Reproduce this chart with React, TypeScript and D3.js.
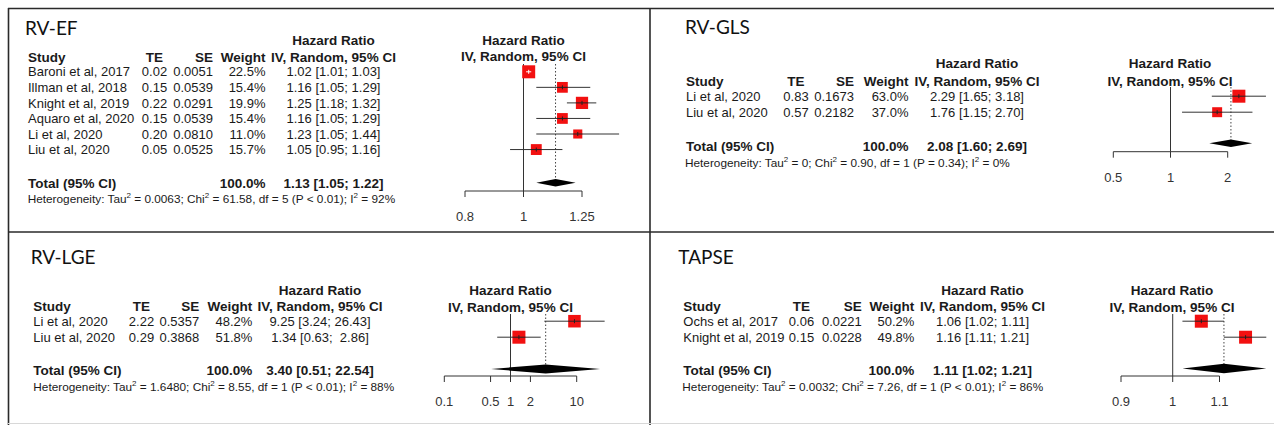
import React from "react";
import * as d3 from "d3";

// ---------------- DATA ----------------
const efStudies = ["Baroni et al, 2017", "Illman et al, 2018", "Knight et al, 2019", "Aquaro et al, 2020", "Li et al, 2020", "Liu et al, 2020"];
const efTE = [0.02, 0.15, 0.22, 0.15, 0.2, 0.05];
const efSE = [0.0051, 0.0539, 0.0291, 0.0539, 0.081, 0.0525];
const efWeight = [22.5, 15.4, 19.9, 15.4, 11.0, 15.7];
const efHR = [1.02, 1.16, 1.25, 1.16, 1.23, 1.05];
const efLower = [1.01, 1.05, 1.18, 1.05, 1.05, 0.95];
const efUpper = [1.03, 1.29, 1.32, 1.29, 1.44, 1.16];
const efTotal = [1.13, 1.05, 1.22];
const efHet = ["0.0063", "61.58", "5", "P < 0.01", "92%"];
const efTicks = [0.8, 1, 1.25];

const glsStudies = ["Li et al, 2020", "Liu et al, 2020"];
const glsTE = [0.83, 0.57];
const glsSE = [0.1673, 0.2182];
const glsWeight = [63.0, 37.0];
const glsHR = [2.29, 1.76];
const glsLower = [1.65, 1.15];
const glsUpper = [3.18, 2.7];
const glsTotal = [2.08, 1.6, 2.69];
const glsHet = ["0", "0.90", "1", "P = 0.34", "0%"];
const glsTicks = [0.5, 1, 2];

const lgeStudies = ["Li et al, 2020", "Liu et al, 2020"];
const lgeTE = [2.22, 0.29];
const lgeSE = [0.5357, 0.3868];
const lgeWeight = [48.2, 51.8];
const lgeHR = [9.25, 1.34];
const lgeLower = [3.24, 0.63];
const lgeUpper = [26.43, 2.86];
const lgeTotal = [3.4, 0.51, 22.54];
const lgeHet = ["1.6480", "8.55", "1", "P < 0.01", "88%"];
const lgeTicks = [0.1, 0.5, 1, 2, 10];

const tapseStudies = ["Ochs et al, 2017", "Knight et al, 2019"];
const tapseTE = [0.06, 0.15];
const tapseSE = [0.0221, 0.0228];
const tapseWeight = [50.2, 49.8];
const tapseHR = [1.06, 1.16];
const tapseLower = [1.02, 1.11];
const tapseUpper = [1.11, 1.21];
const tapseTotal = [1.11, 1.02, 1.21];
const tapseHet = ["0.0032", "7.26", "1", "P < 0.01", "86%"];
const tapseTicks = [0.9, 1, 1.1];

// ---------------- LAYOUT ----------------
const FONT = "'Liberation Sans', Arial, Helvetica, sans-serif";
const TITLE_FONT = "Lato, 'Open Sans', sans-serif";
const TXT = "#1a1a1a";

type Layout = {
  title: [number, number];
  studyX: number; teX: number; seX: number; wX: number; ciX: number;
  hrHeadY: number; colHeadY: number; rowY0: number; rowStep: number;
  totalY: number; hetY: number; hetX: number;
  range: [number, number]; headX: number; headY1: number; headY2: number;
  lineTop: number; axisY: number; tickLabelY: number; diamondY: number; dh: number;
};

const efLayout: Layout = {
  title: [25, 35], studyX: 28, teX: 154.5, seX: 213, wX: 265.5, ciX: 333.5,
  hrHeadY: 40, colHeadY: 56.7, rowY0: 71.8, rowStep: 15.55, totalY: 183.3, hetY: 199, hetX: 27.7,
  range: [465, 582], headX: 523.5, headY1: 40, headY2: 56, lineTop: 64, axisY: 191, tickLabelY: 216, diamondY: 182.7, dh: 3.8,
};
const glsLayout: Layout = {
  title: [685, 34], studyX: 686, teX: 796, seX: 854, wX: 908.5, ciX: 977,
  hrHeadY: 63.3, colHeadY: 80.7, rowY0: 96.2, rowStep: 16, totalY: 145.7, hetY: 162.3, hetX: 685,
  range: [1113.3, 1227.7], headX: 1170, headY1: 63.3, headY2: 81, lineTop: 87, axisY: 151.7, tickLabelY: 177.7, diamondY: 143.3, dh: 3.8,
};
const lgeLayout: Layout = {
  title: [30.7, 263.5], studyX: 33.3, teX: 141.5, seX: 199.3, wX: 252.3, ciX: 320,
  hrHeadY: 290, colHeadY: 306, rowY0: 321.2, rowStep: 16, totalY: 370, hetY: 386.7, hetX: 33.3,
  range: [444.3, 576.7], headX: 510.5, headY1: 290, headY2: 306.7, lineTop: 314, axisY: 376, tickLabelY: 401.7, diamondY: 369, dh: 4.6,
};
const tapseLayout: Layout = {
  title: [678.3, 263.5], studyX: 683.3, teX: 801.5, seX: 861.7, wX: 914.3, ciX: 982.5,
  hrHeadY: 290, colHeadY: 306, rowY0: 321.2, rowStep: 16, totalY: 370, hetY: 386.7, hetX: 682.3,
  range: [1121, 1219.5], headX: 1172, headY1: 290, headY2: 306.7, lineTop: 314, axisY: 376, tickLabelY: 401.7, diamondY: 368.5, dh: 4.8,
};

type PanelData = {
  name: string; studies: string[]; te: number[]; se: number[]; weight: number[];
  hr: number[]; lower: number[]; upper: number[]; total: number[]; het: string[]; ticks: number[];
};

function T(props: { x: number; y: number; anchor?: string; bold?: boolean; size?: number; fill?: string; children: any }) {
  const size = props.size ?? (props.bold ? 13.5 : 13);
  return (
    <text
      x={props.x}
      y={props.y + size * 0.358}
      textAnchor={props.anchor ?? "start"}
      fontWeight={props.bold ? "bold" : "normal"}
      fontSize={size}
      fontFamily={FONT}
      fill={props.fill ?? TXT}
      style={{ whiteSpace: "pre" }}
    >
      {props.children}
    </text>
  );
}

function fmtCI(hr: number, lo: number, hi: number, width: number) {
  const h = hi.toFixed(2);
  return `${hr.toFixed(2)} [${lo.toFixed(2)}; ${h.padStart(width, " ")}]`;
}

function Panel({ d, L }: { d: PanelData; L: Layout }) {
  const x = d3.scaleLog().domain([d.ticks[0], d.ticks[d.ticks.length - 1]]).range(L.range);
  const y = (i: number) => L.rowY0 + i * L.rowStep;
  const maxW = d3.max(d.weight) as number;
  const side = (w: number) => 13 * Math.sqrt(w / maxW);
  const hiWidth = d3.max([...d.upper, d.total[2]].map((v) => v.toFixed(2).length)) as number;
  const x1 = x(1);
  const [tot, tlo, thi] = d.total;
  const dh = L.dh;
  return (
    <g>
      <text x={L.title[0]} y={L.title[1]} fontFamily={TITLE_FONT} fontSize={19} fill="#111">{d.name}</text>
      {/* table header */}
      <T x={L.ciX} y={L.hrHeadY} anchor="middle" bold>Hazard Ratio</T>
      <T x={L.studyX} y={L.colHeadY} bold>Study</T>
      <T x={L.teX} y={L.colHeadY} anchor="middle" bold>TE</T>
      <T x={L.seX} y={L.colHeadY} anchor="end" bold>SE</T>
      <T x={L.wX} y={L.colHeadY} anchor="end" bold>Weight</T>
      <T x={L.ciX} y={L.colHeadY} anchor="middle" bold>IV, Random, 95% CI</T>
      {d.studies.map((s, i) => (
        <g key={s + i}>
          <T x={L.studyX} y={y(i)}>{s}</T>
          <T x={L.teX} y={y(i)} anchor="middle">{d.te[i].toFixed(2)}</T>
          <T x={L.seX} y={y(i)} anchor="end">{d.se[i].toFixed(4)}</T>
          <T x={L.wX} y={y(i)} anchor="end">{d.weight[i].toFixed(1) + "%"}</T>
          <T x={L.ciX} y={y(i)} anchor="middle">{fmtCI(d.hr[i], d.lower[i], d.upper[i], hiWidth)}</T>
        </g>
      ))}
      <T x={L.studyX} y={L.totalY} bold>Total (95% CI)</T>
      <T x={L.wX} y={L.totalY} anchor="end" bold>100.0%</T>
      <T x={L.ciX} y={L.totalY} anchor="middle" bold>{fmtCI(tot, tlo, thi, hiWidth)}</T>
      <text x={L.hetX} y={L.hetY + 11.8 * 0.358} fontFamily={FONT} fontSize={11.8} fill={TXT} style={{ whiteSpace: "pre" }}>
        <tspan>Heterogeneity: Tau</tspan>
        <tspan dy={-5} fontSize={8}>2</tspan>
        <tspan dy={5}>{` = ${d.het[0]}; Chi`}</tspan>
        <tspan dy={-5} fontSize={8}>2</tspan>
        <tspan dy={5}>{` = ${d.het[1]}, df = ${d.het[2]} (${d.het[3]}); I`}</tspan>
        <tspan dy={-5} fontSize={8}>2</tspan>
        <tspan dy={5}>{` = ${d.het[4]}`}</tspan>
      </text>

      {/* forest plot */}
      <T x={L.headX} y={L.headY1} anchor="middle" bold>Hazard Ratio</T>
      <T x={L.headX} y={L.headY2} anchor="middle" bold>IV, Random, 95% CI</T>
      <line x1={x1} x2={x1} y1={L.lineTop} y2={L.axisY} stroke="#333" strokeWidth={1} />
      <line x1={x(tot)} x2={x(tot)} y1={L.lineTop} y2={L.diamondY} stroke="#444" strokeWidth={1} strokeDasharray="1.5,2" />
      {d.studies.map((s, i) => {
        const cx = x(d.hr[i]);
        const cy = y(i);
        const sd = side(d.weight[i]);
        const inside = x(d.lower[i]) >= cx - sd / 2 && x(d.upper[i]) <= cx + sd / 2;
        const lc = inside ? "#fff" : "#222";
        return (
          <g key={"f" + i}>
            {!inside && <line x1={x(d.lower[i])} x2={x(d.upper[i])} y1={cy} y2={cy} stroke="#333" strokeWidth={1} />}
            <rect x={cx - sd / 2} y={cy - sd / 2} width={sd} height={sd} fill="#f21010" />
            <line x1={inside ? x(d.lower[i]) : cx - sd / 2} x2={inside ? x(d.upper[i]) : cx + sd / 2} y1={cy} y2={cy} stroke={lc} strokeWidth={1} />
            <line x1={cx} x2={cx} y1={cy - 2} y2={cy + 2} stroke={lc} strokeWidth={1} />
          </g>
        );
      })}
      <polygon
        points={[
          [x(tlo), L.diamondY],
          [x(tot), L.diamondY - dh],
          [x(thi), L.diamondY],
          [x(tot), L.diamondY + dh],
        ].map((p) => p.join(",")).join(" ")}
        fill="#000"
      />
      <line x1={L.range[0]} x2={L.range[1]} y1={L.axisY} y2={L.axisY} stroke="#333" strokeWidth={1} />
      {d.ticks.map((t) => (
        <g key={"t" + t}>
          <line x1={x(t)} x2={x(t)} y1={L.axisY} y2={L.axisY + 6} stroke="#333" strokeWidth={1} />
          <T x={x(t)} y={L.tickLabelY} anchor="middle" size={13} fill="#333">{String(t)}</T>
        </g>
      ))}
    </g>
  );
}

const panels: { d: PanelData; L: Layout }[] = [
  { d: { name: "RV-EF", studies: efStudies, te: efTE, se: efSE, weight: efWeight, hr: efHR, lower: efLower, upper: efUpper, total: efTotal, het: efHet, ticks: efTicks }, L: efLayout },
  { d: { name: "RV-GLS", studies: glsStudies, te: glsTE, se: glsSE, weight: glsWeight, hr: glsHR, lower: glsLower, upper: glsUpper, total: glsTotal, het: glsHet, ticks: glsTicks }, L: glsLayout },
  { d: { name: "RV-LGE", studies: lgeStudies, te: lgeTE, se: lgeSE, weight: lgeWeight, hr: lgeHR, lower: lgeLower, upper: lgeUpper, total: lgeTotal, het: lgeHet, ticks: lgeTicks }, L: lgeLayout },
  { d: { name: "TAPSE", studies: tapseStudies, te: tapseTE, se: tapseSE, weight: tapseWeight, hr: tapseHR, lower: tapseLower, upper: tapseUpper, total: tapseTotal, het: tapseHet, ticks: tapseTicks }, L: tapseLayout },
];

export default function App() {
  return (
    <svg width={1274} height={425} style={{ position: "absolute", left: 0, top: 0, background: "#fff" }}>
      <rect x={0} y={0} width={1274} height={425} fill="#fff" />
      <line x1={8.5} y1={8} x2={8.5} y2={425} stroke="#2a2a2a" strokeWidth={1.6} />
      <line x1={8} y1={8.5} x2={1274} y2={8.5} stroke="#2a2a2a" strokeWidth={1.6} />
      <line x1={650} y1={8} x2={650} y2={425} stroke="#2a2a2a" strokeWidth={1.6} />
      <line x1={8} y1={232} x2={1274} y2={232} stroke="#2a2a2a" strokeWidth={1.6} />
      <line x1={8} y1={423.5} x2={1274} y2={423.5} stroke="#d8d8d8" strokeWidth={1} />
      {panels.map((p) => (
        <Panel key={p.d.name} d={p.d} L={p.L} />
      ))}
    </svg>
  );
}
